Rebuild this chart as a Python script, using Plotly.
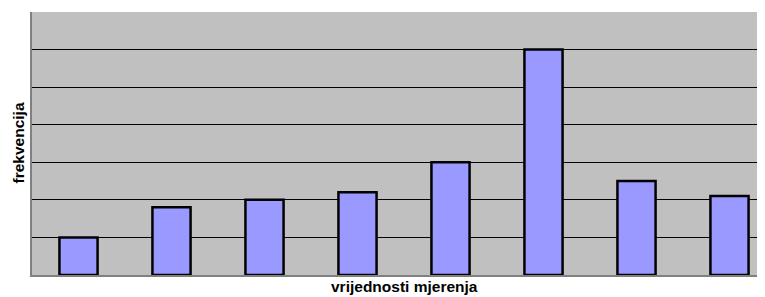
import plotly.graph_objects as go

categories = ["1", "2", "3", "4", "5", "6", "7", "8"]
frekvencija = [1, 1.8, 2, 2.2, 3, 6, 2.5, 2.1]

x_idx = list(range(len(categories)))

fig = go.Figure()
fig.add_trace(go.Bar(
    x=x_idx, y=frekvencija, width=0.41,
    marker=dict(color="#9999FF", line=dict(color="#000000", width=2.5)),
))

# page body has an 8px default margin, so the figure is sized to fit
fig.update_layout(
    width=757, height=289,
    margin=dict(l=24, r=0, t=4, b=22, autoexpand=False),
    paper_bgcolor="white", plot_bgcolor="#C0C0C0",
    showlegend=False,
    font=dict(family="Liberation Sans, Arial, sans-serif", size=12, color="black"),
    xaxis=dict(range=[-0.5, -0.5 + 733 / 93], showticklabels=False, showgrid=False,
               zeroline=False, showline=True, linecolor="#808080", linewidth=2,
               mirror=False, ticks=""),
    yaxis=dict(range=[0, 7], dtick=1, showticklabels=False, showgrid=True,
               gridcolor="#000000", gridwidth=1, zeroline=False,
               showline=True, linecolor="#808080", linewidth=2, mirror=True, ticks=""),
    annotations=[
        dict(text="<b>vrijednosti mjerenja</b>", x=3.5, xref="x", y=-0.005, yref="paper",
             yanchor="top", showarrow=False, font=dict(size=15.5)),
        dict(text="<b>frekvencija</b>", x=-14 / 733, xref="paper", xanchor="center",
             y=0.5, yref="paper", showarrow=False, textangle=-90, font=dict(size=15.5)),
    ],
)
fig.write_html("out.html")
